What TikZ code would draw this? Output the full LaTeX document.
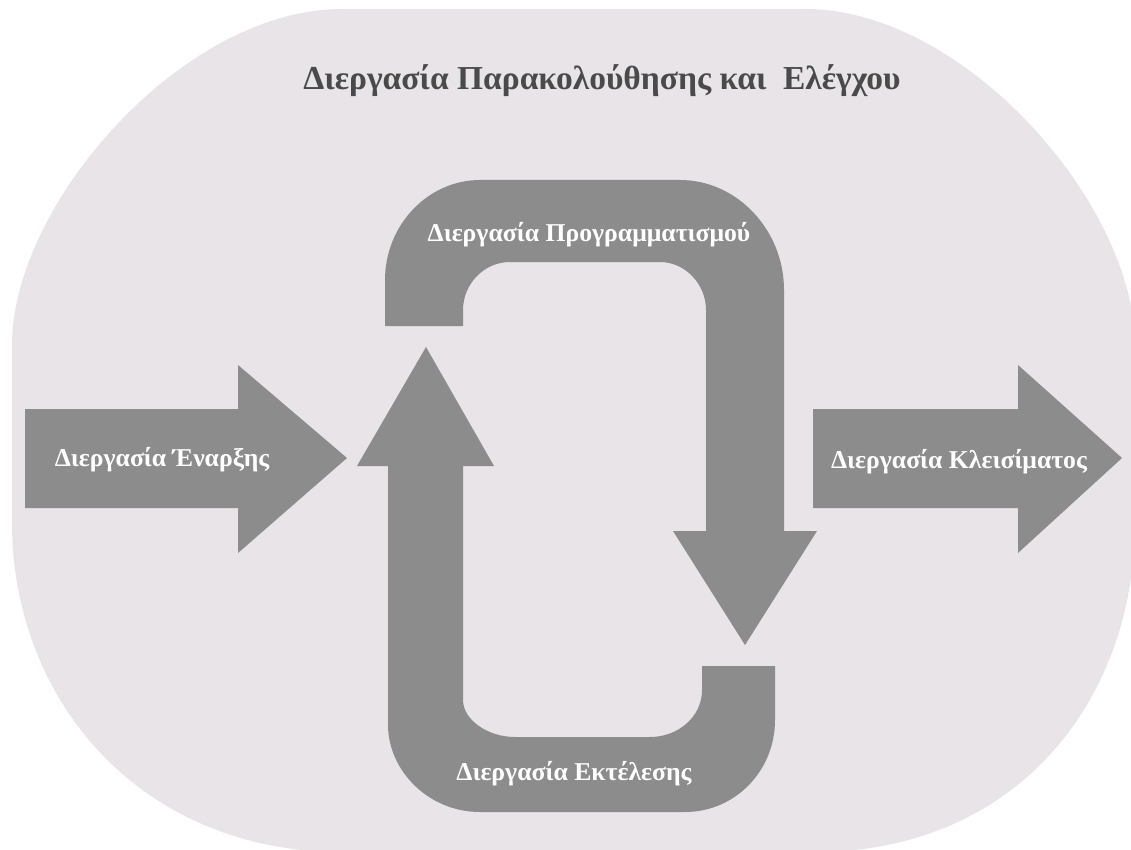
\documentclass[tikz,border=0pt]{standalone}
\usepackage{fontspec}
\setmainfont{Liberation Serif}
\definecolor{bgpink}{HTML}{E8E4E8}
\definecolor{arrowgray}{HTML}{8C8C8C}
\definecolor{titlegray}{HTML}{4A4A4A}
\tikzset{
  shapefill/.style={fill=arrowgray, draw=none},
  lbl/.style={text=white, font=\bfseries\fontsize{25.7}{28}\selectfont, inner sep=0pt, anchor=base},
  ttl/.style={text=titlegray, font=\bfseries\fontsize{33.5}{36}\selectfont, inner sep=0pt, anchor=base}
}
\begin{document}
\begin{tikzpicture}[x=1pt,y=-1pt]
\useasboundingbox (0,0) rectangle (1131,850);
\fill[white] (0,0) rectangle (1131,850);
\begin{scope}
\clip (0,0) rectangle (1131,850);
\fill[bgpink] (12,345) .. controls (12,205) and (182,9) .. (342,9)
  -- (805,9) .. controls (965,9) and (1135,205) .. (1135,345)
  -- (1135,522) .. controls (1135,702) and (1015,852) .. (815,852)
  -- (342,852) .. controls (142,852) and (12,702) .. (12,522) -- cycle;
\end{scope}
% top U arrow (planning)
\fill[shapefill] (385,326) -- (385,280) .. controls (385,225) and (428,180) .. (480,180)
  -- (680,180) .. controls (737,180) and (784,230) .. (784,290)
  -- (784,531) -- (817,531) -- (745,645) -- (673,531) -- (706,531)
  -- (706,310) .. controls (706,284) and (685,262) .. (660,262)
  -- (510,262) .. controls (484,262) and (463,284) .. (463,310)
  -- (463,326) -- cycle;
% bottom U arrow (execution)
\fill[shapefill] (775,666) -- (775,720) .. controls (775,771) and (735,812) .. (685,812)
  -- (480,812) .. controls (428,812) and (388,770) .. (388,725)
  -- (388,466) -- (357,466) -- (426,347) -- (494,466) -- (463,466)
  -- (463,700) .. controls (463,720) and (488,737) .. (515,737)
  -- (650,737) .. controls (678,737) and (702,717) .. (702,690)
  -- (702,666) -- cycle;
% left arrow
\fill[shapefill] (25,409) -- (238,409) -- (238,365) -- (347,458) -- (238,553) -- (238,508) -- (25,508) -- cycle;
% right arrow
\fill[shapefill] (813,409) -- (1018,409) -- (1018,365) -- (1122,458) -- (1018,553) -- (1018,508) -- (813,508) -- cycle;
% texts
\node[ttl] (title) at (602,90) {Διεργασία Παρακολούθησης και \ Ελέγχου};
\node[lbl] (start) at (162,466) {Διεργασία Έναρξης};
\node[lbl] (close) at (959,468) {Διεργασία Κλεισίματος};
\node[lbl] (plan) at (589,241) {Διεργασία Προγραμματισμού};
\node[lbl] (exec) at (574,780) {Διεργασία Εκτέλεσης};
\end{tikzpicture}
\end{document}
